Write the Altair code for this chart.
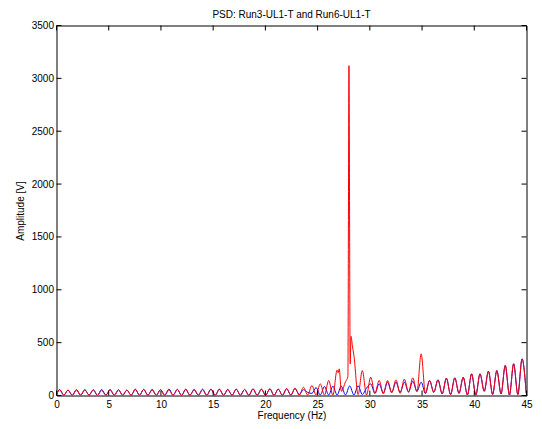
import altair as alt
import pandas as pd

# Frequency grid (Hz): start, then alternating peak / trough positions
freq = [0.0,
        0.3, 0.703, 1.105, 1.508, 1.91, 2.313, 2.715, 3.118, 3.52, 3.923,
        4.325, 4.728, 5.13, 5.533, 5.935, 6.338, 6.74, 7.143, 7.545, 7.948,
        8.35, 8.753, 9.155, 9.558, 9.96, 10.363, 10.765, 11.168, 11.57, 11.973,
        12.375, 12.778, 13.18, 13.583, 13.985, 14.388, 14.79, 15.193, 15.595, 15.998,
        16.4, 16.803, 17.205, 17.608, 18.01, 18.413, 18.815, 19.218, 19.62, 20.023,
        20.425, 20.828, 21.23, 21.633, 22.035, 22.438, 22.84, 23.243, 23.645, 24.048,
        24.45, 24.853, 25.255, 25.658, 26.06, 26.463, 26.865, 27.268, 27.67, 28.073,
        28.475, 28.878, 29.28, 29.683, 30.085, 30.488, 30.89, 31.293, 31.695, 32.098,
        32.5, 32.903, 33.305, 33.708, 34.11, 34.513, 34.915, 35.318, 35.72, 36.123,
        36.525, 36.928, 37.33, 37.733, 38.135, 38.538, 38.94, 39.343, 39.745, 40.148,
        40.55, 40.953, 41.355, 41.758, 42.16, 42.563, 42.965, 43.368, 43.77, 44.173,
        44.575, 44.978]

# Run6-UL1-T (red) amplitude on the grid; None = replaced by spike detail
red_amp = [5,
           55, 2, 52, 1, 50, 3, 55, 2, 52, 1,
           50, 2, 56, 3, 54, 1, 52, 2, 55, 3,
           58, 1, 52, 2, 56, 3, 54, 2, 58, 1,
           56, 2, 52, 3, 55, 2, 60, 1, 58, 3,
           56, 2, 60, 2, 57, 1, 62, 3, 58, 2,
           63, 2, 60, 1, 66, 3, 70, 2, 78, 4,
           95, 6, 110, 3, 142, 2, 240, 40, 130, None,
           380, 8, 236, 5, 173, 20, 142, 15, 142, 25,
           148, 20, 155, 30, 167, 35, 394, 20, 142, 30,
           148, 15, 164, 8, 167, 20, 173, 5, 205, 3,
           205, 40, 230, 10, 236, 15, 284, 5, 300, 10,
           347, 20]

# extra red detail around the 28 Hz spike
red_extra_freq = [26.96, 27.07, 27.9, 28.0, 28.12, 28.2, 28.33]
red_extra_amp = [215, 252, 180, 3120, 300, 560, 470]

# Run3-UL1-T (blue) amplitude on the grid
blue_amp = [5,
            57, 2, 52, 2, 56, 2, 55, 2, 55, 2,
            57, 2, 56, 2, 54, 2, 52, 2, 60, 2,
            58, 2, 58, 2, 56, 2, 60, 2, 58, 2,
            60, 2, 58, 2, 60, 2, 60, 2, 60, 2,
            58, 2, 60, 2, 58, 2, 62, 2, 60, 2,
            63, 2, 60, 2, 64, 3, 66, 10, 55, 30,
            20, 75, 5, 85, 5, 88, 5, 88, 5, 90,
            5, 92, 10, 70, 110, 20, 110, 25, 126, 30,
            126, 30, 126, 35, 135, 40, 126, 20, 142, 30,
            148, 15, 164, 8, 167, 20, 173, 5, 205, 3,
            205, 40, 230, 10, 236, 15, 284, 5, 300, 10,
            347, 20]

x_ticks = [0, 5, 10, 15, 20, 25, 30, 35, 40, 45]
y_ticks = [0, 500, 1000, 1500, 2000, 2500, 3000, 3500]

FONT = "Liberation Sans"
W, H = 470, 370
TICK = 5

red_rows = [(f, a) for f, a in zip(freq, red_amp) if a is not None]
red_rows += list(zip(red_extra_freq, red_extra_amp))
red_rows.sort()
red_df = pd.DataFrame(red_rows, columns=["freq", "amp"])
blue_df = pd.DataFrame({"freq": freq, "amp": blue_amp})
xt_df = pd.DataFrame({"freq": x_ticks})
yt_df = pd.DataFrame({"amp": y_ticks})

x_scale = alt.Scale(domain=[0, 45], nice=False, zero=False)
y_scale = alt.Scale(domain=[0, 3500], nice=False)

x_axis = alt.Axis(values=x_ticks, title="Frequency (Hz)", ticks=False, format="d",
                  domain=False, grid=False, labelPadding=4, titlePadding=1,
                  labelFont=FONT, titleFont=FONT, labelFontSize=10, titleFontSize=10,
                  titleFontWeight="normal", labelColor="black", titleColor="black",
                  labelFlush=False)
y_axis = alt.Axis(values=y_ticks, title="Amplitude [V]", ticks=False, format="d",
                  domain=False, grid=False, labelPadding=3, titlePadding=6,
                  labelFont=FONT, titleFont=FONT, labelFontSize=10, titleFontSize=10,
                  titleFontWeight="normal", labelColor="black", titleColor="black",
                  labelFlush=False)

X = alt.X("freq:Q", scale=x_scale, axis=x_axis)
Y = alt.Y("amp:Q", scale=y_scale, axis=y_axis)

blue = alt.Chart(blue_df).mark_line(color="#0000ff", strokeWidth=1, clip=True,
                                    interpolate="monotone").encode(x=X, y=Y)
red = alt.Chart(red_df).mark_line(color="#ff0000", strokeWidth=1, clip=True,
                                  interpolate="monotone").encode(x=X, y=Y)

xt_bottom = alt.Chart(xt_df).mark_rule(color="black", strokeWidth=1).encode(
    x=X, y=alt.value(H), y2=alt.value(H - TICK))
xt_top = alt.Chart(xt_df).mark_rule(color="black", strokeWidth=1).encode(
    x=X, y=alt.value(0), y2=alt.value(TICK))
yt_left = alt.Chart(yt_df).mark_rule(color="black", strokeWidth=1).encode(
    y=Y, x=alt.value(0), x2=alt.value(TICK))
yt_right = alt.Chart(yt_df).mark_rule(color="black", strokeWidth=1).encode(
    y=Y, x=alt.value(W), x2=alt.value(W - TICK))

chart = alt.layer(blue, red, xt_bottom, xt_top, yt_left, yt_right).properties(
    width=W, height=H,
    title=alt.TitleParams("PSD: Run3-UL1-T and Run6-UL1-T", font=FONT, fontSize=10,
                          fontWeight="normal", color="black", offset=1),
    autosize=alt.AutoSizeParams(type="none"),
    padding={"left": 48.5, "top": 17.5, "right": 7.5, "bottom": 25.5},
).configure(background="white").configure_view(stroke="black", strokeWidth=1)

chart.save("out.html", embed_options={"renderer": "svg", "actions": False})
